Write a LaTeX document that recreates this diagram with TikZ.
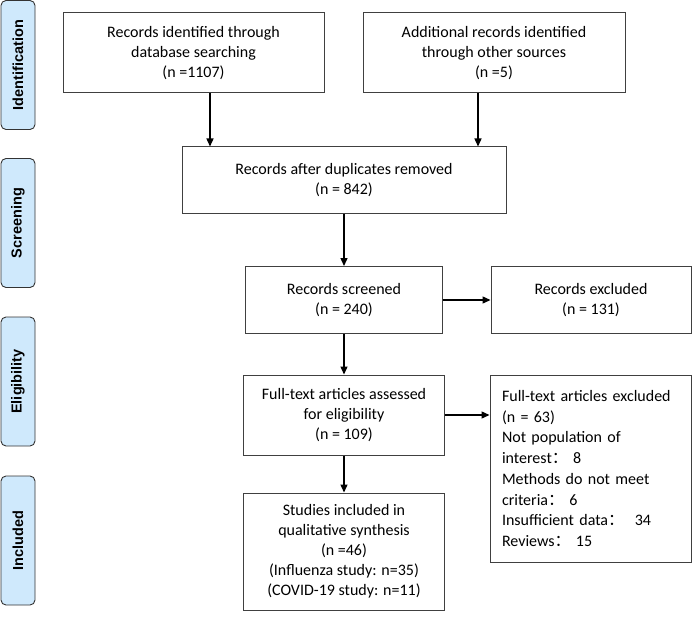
\documentclass[tikz,border=0pt]{standalone}
\usepackage{fontspec}
\setmainfont{Carlito}
\newfontfamily\sidefont{Liberation Sans}
\newfontfamily\cjk{Noto Sans CJK SC}
\usetikzlibrary{arrows.meta}
\definecolor{sideblue}{RGB}{207,233,252}

\begin{document}
\begin{tikzpicture}[x=1pt, y=-1pt] %PRISMA
    \tikzstyle{mainbox} = [rectangle, draw=black!75, line width=1pt, align=center, inner sep=0pt, font=\fontsize{16}{20}\selectfont]
    \tikzstyle{sidebox} = [rectangle, rounded corners=5pt, draw=black!80, line width=0.9pt, fill=sideblue, minimum width=129pt, minimum height=34pt, rotate=90, font=\sidefont\bfseries\fontsize{14.5}{16}\selectfont]
    \tikzstyle{flow} = [-{Triangle[width=7pt,length=8pt]}, line width=1.4pt]
    \useasboundingbox (0,0) rectangle (692,620);
    % phases
    \node[sidebox] (ident) at (18,65) {Identification};
    \node[sidebox] (screen) at (18,223) {Screening};
    \node[sidebox] (elig) at (18,381.5) {Eligibility};
    \node[sidebox] (incl) at (18,540.5) {Included};
    % boxes
    \node[mainbox, minimum width=261pt, minimum height=80pt] (db) at (193.5,53) {Records identified through\\database searching\\(n =1107)};
    \node[mainbox, minimum width=262pt, minimum height=80pt] (other) at (494,53) {Additional records identified\\through other sources\\(n =5)};
    \node[mainbox, minimum width=324pt, minimum height=66pt] (dup) at (344,180) {Records after duplicates removed\\(n = 842)};
    \node[mainbox, minimum width=197pt, minimum height=67pt] (scr) at (344,300) {Records screened\\(n = 240)};
    \node[mainbox, minimum width=200pt, minimum height=67pt] (scrx) at (591,300) {Records excluded\\(n = 131)};
    \node[mainbox, minimum width=201pt, minimum height=80pt] (ft) at (344,415) {Full-text articles assessed\\for eligibility\\(n = 109)};
    \node[mainbox, text width=177pt, align=left, inner sep=12pt, minimum height=187pt, font=\fontsize{16}{20.7}\selectfont] (ftx) at (590.5,468.5) {Full-text articles excluded\\(n = 63)\\Not population of\\interest{\cjk ：} 8\\Methods do not meet\\criteria{\cjk ：} 6\\Insufficient data{\cjk ：}\ \ 34\\Reviews{\cjk ：} 15};
    \node[mainbox, minimum width=201pt, minimum height=117pt] (inc) at (344,551.5) {Studies included in\\qualitative synthesis\\(n =46)\\(Influenza study: n=35)\\(COVID-19 study: n=11)};
    % arrows
    \draw[flow] ([xshift=16.5pt]db.south) -- ([xshift=16.5pt]db.south |- dup.north);
    \draw[flow] ([xshift=-16pt]other.south) -- ([xshift=-16pt]other.south |- dup.north);
    \draw[flow] (dup.south) -- (scr.north);
    \draw[flow] (scr.east) -- (scrx.west);
    \draw[flow] (scr.south) -- (ft.north);
    \draw[flow] (ft.east) -- (ft.east -| ftx.west);
    \draw[flow] (ft.south) -- (inc.north);
\end{tikzpicture}
\end{document}
